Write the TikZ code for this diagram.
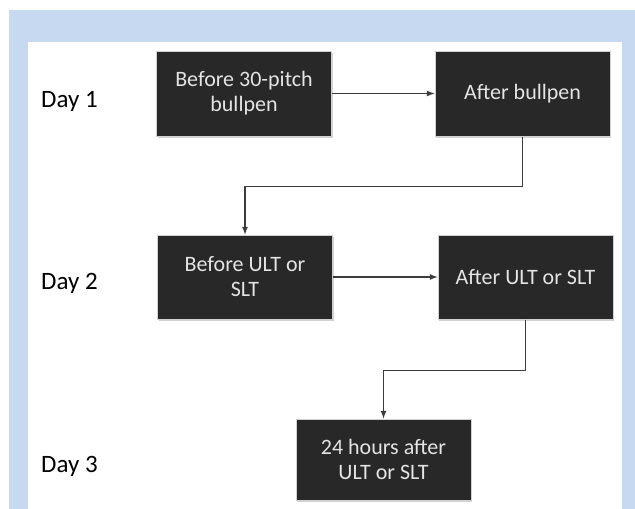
\documentclass[tikz,border=0pt]{standalone}
\usepackage{fontspec}
\setmainfont{Carlito}
\usetikzlibrary{shadows}
\definecolor{framblue}{HTML}{C6D9F0}
\definecolor{boxfill}{HTML}{282828}
\definecolor{boxtext}{HTML}{E4E4E4}
\definecolor{linegray}{HTML}{3C3C3C}
\tikzset{
  stagebox/.style={draw=black!18, line width=1pt, fill=boxfill, text=boxtext,
    minimum width=175pt, align=center, font=\fontsize{22}{25}\selectfont,
    drop shadow={shadow xshift=1pt, shadow yshift=-2pt, opacity=0.35}},
  daylabel/.style={anchor=base west, inner sep=0pt, font=\fontsize{25}{30}\selectfont},
  flow/.style={draw=linegray, line width=1.6pt, ->, >=latex}
}
\begin{document}
\begin{tikzpicture}[x=1pt,y=-1pt]
      \useasboundingbox (0,0) rectangle (635,509);
      \fill[white] (0,0) rectangle (635,509);
      \fill[framblue] (9,10) rectangle (635,509);
      \fill[white] (28,42) rectangle (622,509);

      \node[daylabel] (day1) at (41,107) {Day 1};
      \node[daylabel] (day2) at (41,289) {Day 2};
      \node[daylabel] (day3) at (41,472) {Day 3};

      \node[stagebox, minimum height=85pt] (b1) at (244,93.5) {Before 30-pitch\\bullpen};
      \node[stagebox, minimum height=85pt] (b2) at (522.5,93.5) {After bullpen};
      \node[stagebox, minimum height=84pt] (b3) at (245,277) {Before ULT or\\SLT};
      \node[stagebox, minimum height=84pt] (b4) at (525.5,277) {After ULT or SLT};
      \node[stagebox, minimum height=81pt] (b5) at (383.5,459.5) {24 hours after\\ULT or SLT};

      \draw[flow] (b1) -- (b2);
      \draw[flow] (b2.south) -- ++(0,50) -| (b3.north);
      \draw[flow] (b3) -- (b4);
      \draw[flow] (b4.south) -- ++(0,51) -| (b5.north);
    \end{tikzpicture}
\end{document}
